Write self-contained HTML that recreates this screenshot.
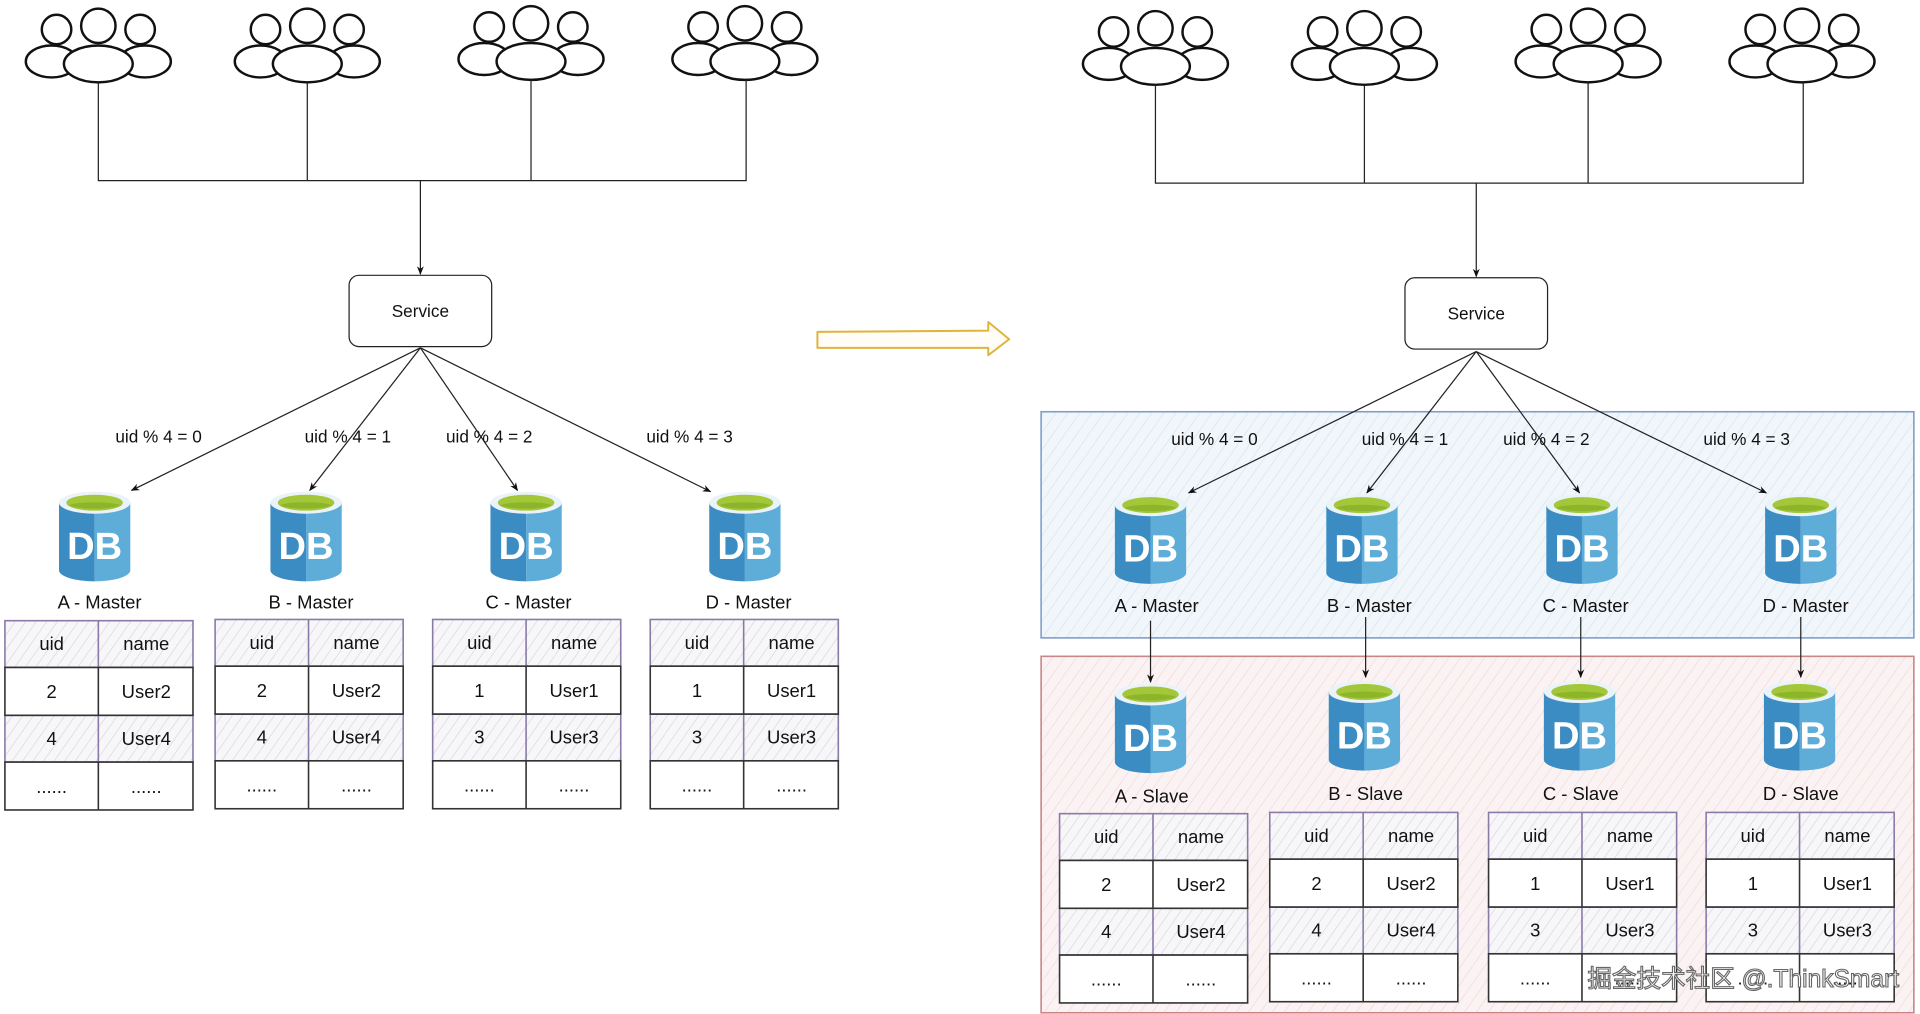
<!DOCTYPE html>
<html><head><meta charset="utf-8"><style>
html,body{margin:0;padding:0;background:#fff;overflow:hidden}
svg{display:block}
text{font-family:"Liberation Sans","Noto Sans CJK SC",sans-serif;fill:#111}
</style></head><body>
<svg width="1920" height="1014" viewBox="0 0 1562 825" preserveAspectRatio="none" xmlns="http://www.w3.org/2000/svg">
<defs>
<pattern id="hg" width="7" height="7" patternUnits="userSpaceOnUse" patternTransform="rotate(35)">
<rect width="7" height="7" fill="#f7f6f8"/><line x1="0" y1="0" x2="0" y2="7" stroke="#d6d3d8" stroke-width="1"/></pattern>
<pattern id="hb" width="8" height="8" patternUnits="userSpaceOnUse" patternTransform="rotate(35)">
<rect width="8" height="8" fill="#f1f6fb"/><line x1="0" y1="0" x2="0" y2="8" stroke="#d3e1ef" stroke-width="1"/></pattern>
<pattern id="hr" width="8" height="8" patternUnits="userSpaceOnUse" patternTransform="rotate(35)">
<rect width="8" height="8" fill="#fbf3f3"/><line x1="0" y1="0" x2="0" y2="8" stroke="#efd6d6" stroke-width="1"/></pattern>
<marker id="ar" viewBox="0 0 10 10" refX="9" refY="5" markerWidth="7" markerHeight="7" orient="auto"><path d="M0,1 L10,5 L0,9 L3,5Z" fill="#111"/></marker>
<g id="ppl" fill="#fff" stroke="#111" stroke-width="2">
<circle cx="-34" cy="-16" r="12"/><circle cx="34" cy="-16" r="12"/>
<ellipse cx="-38" cy="10" rx="21" ry="13"/><ellipse cx="38" cy="10" rx="21" ry="13"/>
<circle cx="0" cy="-19" r="14"/>
<ellipse cx="0" cy="12" rx="28" ry="15"/>
</g>
<g id="db">
<path d="M-29,9 L-29,64 A29,9 0 0 0 0,73 L0,9Z" fill="#3b8cc3"/>
<path d="M0,9 L0,73 A29,9 0 0 0 29,64 L29,9Z" fill="#5eacd8"/>
<ellipse cx="0" cy="9" rx="29" ry="9" fill="#eaf3f9"/>
<ellipse cx="0" cy="9" rx="23" ry="6.5" fill="#a4c639"/>
<path d="M-21,11 A23,5 0 0 0 21,11 A23,4 0 0 0 -21,11Z" fill="#8db52a"/>
</g>
<g id="tbl">
<rect x="0" y="0" width="153" height="38" fill="url(#hg)"/>
<rect x="0" y="77" width="153" height="38" fill="url(#hg)"/>
<rect x="0" y="38" width="153" height="39" fill="#fff"/>
<rect x="0" y="115" width="153" height="39" fill="#fff"/>
<g fill="none" stroke="#8a7aa8" stroke-width="1.3">
<rect x="0" y="0" width="153" height="38"/><line x1="76" y1="0" x2="76" y2="38"/>
<rect x="0" y="77" width="153" height="38"/><line x1="76" y1="77" x2="76" y2="115"/></g>
<g fill="none" stroke="#333" stroke-width="1.3">
<rect x="0" y="38" width="153" height="39"/><line x1="76" y1="38" x2="76" y2="77"/>
<rect x="0" y="115" width="153" height="39"/><line x1="76" y1="115" x2="76" y2="154"/></g>
</g>
</defs>

<!-- LEFT -->
<use href="#ppl" x="80" y="40"/><use href="#ppl" x="250" y="40"/><use href="#ppl" x="432" y="38"/><use href="#ppl" x="606" y="38"/>
<g stroke="#222" stroke-width="1" fill="none">
<path d="M80,67 V147 H607 V65 M250,67 V147 M432,65 V147"/>
<line x1="342" y1="147" x2="342" y2="223" marker-end="url(#ar)"/>
<line x1="342" y1="283" x2="107" y2="399" marker-end="url(#ar)"/>
<line x1="342" y1="283" x2="252" y2="399" marker-end="url(#ar)"/>
<line x1="342" y1="283" x2="421" y2="399" marker-end="url(#ar)"/>
<line x1="342" y1="283" x2="578" y2="400" marker-end="url(#ar)"/>
</g>
<rect x="284" y="224" width="116" height="58" rx="8" fill="#fff" stroke="#222" stroke-width="1"/>
<text x="342" y="258" font-size="14" text-anchor="middle">Service</text>
<g font-size="14" text-anchor="middle">
<text x="129" y="360">uid % 4 = 0</text><text x="283" y="360">uid % 4 = 1</text>
<text x="398" y="360">uid % 4 = 2</text><text x="561" y="360">uid % 4 = 3</text>
</g>
<use href="#db" x="77" y="400"/><use href="#db" x="249" y="400"/><use href="#db" x="428" y="400"/><use href="#db" x="606" y="400"/>
<g font-size="31" font-weight="bold" text-anchor="middle" style="fill:#fff">
<text x="77" y="455" style="fill:#fff">DB</text><text x="249" y="455" style="fill:#fff">DB</text><text x="428" y="455" style="fill:#fff">DB</text><text x="606" y="455" style="fill:#fff">DB</text>
</g>
<g font-size="15" text-anchor="middle">
<text x="81" y="495">A - Master</text><text x="253" y="495">B - Master</text><text x="430" y="495">C - Master</text><text x="609" y="495">D - Master</text>
</g>
<!-- left tables -->
<g transform="translate(4,505)"><use href="#tbl"/><g font-size="15" text-anchor="middle"><text x="38" y="24">uid</text><text x="115" y="24">name</text><text x="38" y="63">2</text><text x="115" y="63">User2</text><text x="38" y="101">4</text><text x="115" y="101">User4</text><text x="38" y="140">......</text><text x="115" y="140">......</text></g></g>
<g transform="translate(175,504)"><use href="#tbl"/><g font-size="15" text-anchor="middle"><text x="38" y="24">uid</text><text x="115" y="24">name</text><text x="38" y="63">2</text><text x="115" y="63">User2</text><text x="38" y="101">4</text><text x="115" y="101">User4</text><text x="38" y="140">......</text><text x="115" y="140">......</text></g></g>
<g transform="translate(352,504)"><use href="#tbl"/><g font-size="15" text-anchor="middle"><text x="38" y="24">uid</text><text x="115" y="24">name</text><text x="38" y="63">1</text><text x="115" y="63">User1</text><text x="38" y="101">3</text><text x="115" y="101">User3</text><text x="38" y="140">......</text><text x="115" y="140">......</text></g></g>
<g transform="translate(529,504)"><use href="#tbl"/><g font-size="15" text-anchor="middle"><text x="38" y="24">uid</text><text x="115" y="24">name</text><text x="38" y="63">1</text><text x="115" y="63">User1</text><text x="38" y="101">3</text><text x="115" y="101">User3</text><text x="38" y="140">......</text><text x="115" y="140">......</text></g></g>

<!-- big arrow -->
<path d="M665,270 L804,269 L804,262 L821,276 L804,289 L804,283 L665,283 Z" fill="#fffdf6" stroke="#e0b43c" stroke-width="1.6" stroke-linejoin="round"/>

<!-- RIGHT -->
<rect x="847" y="335" width="710" height="184" fill="url(#hb)" stroke="#7f9fca" stroke-width="1.3"/>
<rect x="847" y="534" width="710" height="290" fill="url(#hr)" stroke="#c98686" stroke-width="1.3"/>
<use href="#ppl" x="940" y="42"/><use href="#ppl" x="1110" y="42"/><use href="#ppl" x="1292" y="40"/><use href="#ppl" x="1466" y="40"/>
<g stroke="#222" stroke-width="1" fill="none">
<path d="M940,69 V149 H1467 V67 M1110,69 V149 M1292,67 V149"/>
<line x1="1201" y1="149" x2="1201" y2="225" marker-end="url(#ar)"/>
<line x1="1201" y1="286" x2="967" y2="401" marker-end="url(#ar)"/>
<line x1="1201" y1="286" x2="1112" y2="401" marker-end="url(#ar)"/>
<line x1="1201" y1="286" x2="1285" y2="401" marker-end="url(#ar)"/>
<line x1="1201" y1="286" x2="1437" y2="401" marker-end="url(#ar)"/>
<line x1="936" y1="505" x2="936" y2="555" marker-end="url(#ar)"/>
<line x1="1111" y1="502" x2="1111" y2="551" marker-end="url(#ar)"/>
<line x1="1286" y1="502" x2="1286" y2="551" marker-end="url(#ar)"/>
<line x1="1465" y1="502" x2="1465" y2="551" marker-end="url(#ar)"/>
</g>
<rect x="1143" y="226" width="116" height="58" rx="8" fill="#fff" stroke="#222" stroke-width="1"/>
<text x="1201" y="260" font-size="14" text-anchor="middle">Service</text>
<g font-size="14" text-anchor="middle">
<text x="988" y="362">uid % 4 = 0</text><text x="1143" y="362">uid % 4 = 1</text>
<text x="1258" y="362">uid % 4 = 2</text><text x="1421" y="362">uid % 4 = 3</text>
</g>
<use href="#db" x="936" y="402"/><use href="#db" x="1108" y="402"/><use href="#db" x="1287" y="402"/><use href="#db" x="1465" y="402"/>
<use href="#db" x="936" y="556"/><use href="#db" x="1110" y="554"/><use href="#db" x="1285" y="554"/><use href="#db" x="1464" y="554"/>
<g font-size="31" font-weight="bold" text-anchor="middle">
<text x="936" y="457" style="fill:#fff">DB</text><text x="1108" y="457" style="fill:#fff">DB</text><text x="1287" y="457" style="fill:#fff">DB</text><text x="1465" y="457" style="fill:#fff">DB</text>
<text x="936" y="611" style="fill:#fff">DB</text><text x="1110" y="609" style="fill:#fff">DB</text><text x="1285" y="609" style="fill:#fff">DB</text><text x="1464" y="609" style="fill:#fff">DB</text>
</g>
<g font-size="15" text-anchor="middle">
<text x="941" y="498">A - Master</text><text x="1114" y="498">B - Master</text><text x="1290" y="498">C - Master</text><text x="1469" y="498">D - Master</text>
<text x="937" y="653">A - Slave</text><text x="1111" y="651">B - Slave</text><text x="1286" y="651">C - Slave</text><text x="1465" y="651">D - Slave</text>
</g>
<g transform="translate(862,662)"><use href="#tbl"/><g font-size="15" text-anchor="middle"><text x="38" y="24">uid</text><text x="115" y="24">name</text><text x="38" y="63">2</text><text x="115" y="63">User2</text><text x="38" y="101">4</text><text x="115" y="101">User4</text><text x="38" y="140">......</text><text x="115" y="140">......</text></g></g>
<g transform="translate(1033,661)"><use href="#tbl"/><g font-size="15" text-anchor="middle"><text x="38" y="24">uid</text><text x="115" y="24">name</text><text x="38" y="63">2</text><text x="115" y="63">User2</text><text x="38" y="101">4</text><text x="115" y="101">User4</text><text x="38" y="140">......</text><text x="115" y="140">......</text></g></g>
<g transform="translate(1211,661)"><use href="#tbl"/><g font-size="15" text-anchor="middle"><text x="38" y="24">uid</text><text x="115" y="24">name</text><text x="38" y="63">1</text><text x="115" y="63">User1</text><text x="38" y="101">3</text><text x="115" y="101">User3</text><text x="38" y="140">......</text><text x="115" y="140">......</text></g></g>
<g transform="translate(1388,661)"><use href="#tbl"/><g font-size="15" text-anchor="middle"><text x="38" y="24">uid</text><text x="115" y="24">name</text><text x="38" y="63">1</text><text x="115" y="63">User1</text><text x="38" y="101">3</text><text x="115" y="101">User3</text><text x="38" y="140">......</text><text x="115" y="140">......</text></g></g>

<!-- watermark -->
<text x="1545" y="803" font-size="20" text-anchor="end" style="fill:#fff;stroke:#666;stroke-width:0.9" >掘金技术社区 @.ThinkSmart</text>
</svg>
</body></html>
